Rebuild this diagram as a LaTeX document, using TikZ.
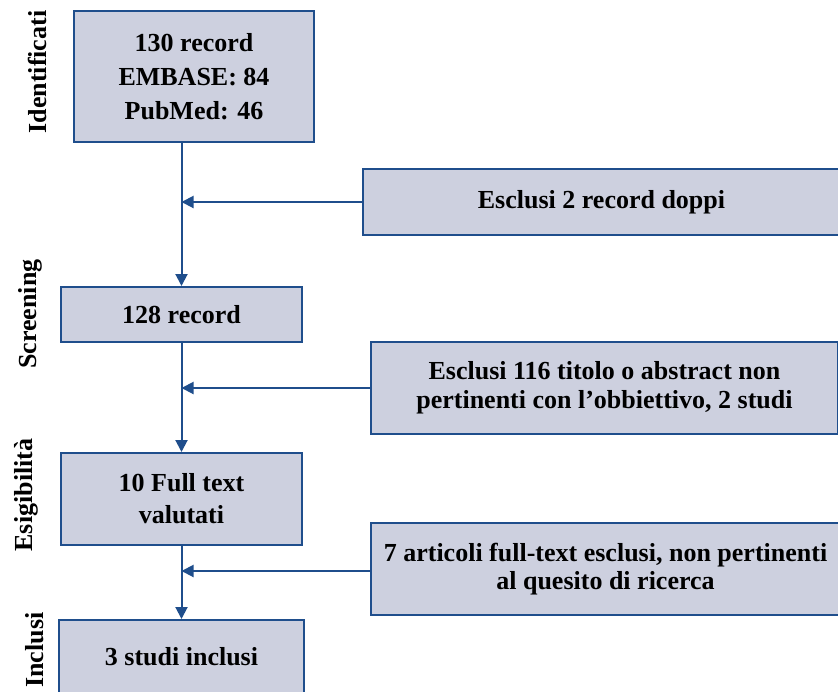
\documentclass[tikz,border=0pt]{standalone}
\usepackage{fontspec}
\setmainfont{Liberation Serif}
\usetikzlibrary{arrows.meta}
\definecolor{boxfill}{HTML}{CDD0DF}
\definecolor{boxline}{HTML}{1F4E8C}
\tikzset{
  box/.style={draw=boxline, line width=2pt, fill=boxfill, align=center, inner sep=0pt,
    font=\bfseries\fontsize{26}{28}\selectfont},
  arr/.style={draw=boxline, line width=2pt, -{Triangle[length=12pt,width=12pt]}},
  phase/.style={rotate=90, font=\bfseries\fontsize{26}{28}\selectfont}
}
\begin{document}
\begin{tikzpicture}[x=1pt,y=-1pt]
\useasboundingbox (0,0) rectangle (838,691);
% left column boxes
\node[box, minimum width=240pt, minimum height=131pt, font=\bfseries\fontsize{26}{34}\selectfont] (b1) at (194,76.5)
  {130 record\\EMBASE: 84\\PubMed: 46};
\node[box, minimum width=241pt, minimum height=55pt] (b2) at (181.5,314.5) {128 record};
\node[box, minimum width=241pt, minimum height=92pt, font=\bfseries\fontsize{26}{32}\selectfont] (b3) at (181.5,499)
  {10 Full text\\valutati};
\node[box, minimum width=245pt, minimum height=74pt] (b4) at (181.5,657) {3 studi inclusi};
% right exclusion boxes
\node[box, minimum width=477pt, minimum height=66pt] (e1) at (601.5,202) {Esclusi 2 record doppi};
\node[box, minimum width=467pt, minimum height=92pt, font=\bfseries\fontsize{26}{29}\selectfont] (e2) at (604.5,388)
  {Esclusi 116 titolo o abstract non\\pertinenti con l’obbiettivo, 2 studi};
\node[box, minimum width=469pt, minimum height=92pt, font=\bfseries\fontsize{26}{28}\selectfont] (e3) at (605.5,569)
  {7 articoli full-text esclusi, non pertinenti\\al quesito di ricerca};
% phase labels
\node[phase] (p1) at (37,72) {Identificati};
\node[phase] (p2) at (30,314) {Screening};
\node[phase] (p3) at (26,495) {Esigibilità};
\node[phase] (p4) at (35,650) {Inclusi};
% connectors
\draw[arr] (b1.south -| b2.north) -- (b2.north);
\draw[arr] (b2.south) -- (b3.north);
\draw[arr] (b3.south) -- (b4.north);
\draw[arr] (e1.west) -- (e1.west -| b2.north);
\draw[arr] (e2.west) -- (e2.west -| b2.north);
\draw[arr] ([yshift=-2pt]e3.west) -- ([yshift=-2pt]e3.west -| b2.north);
\end{tikzpicture}
\end{document}
